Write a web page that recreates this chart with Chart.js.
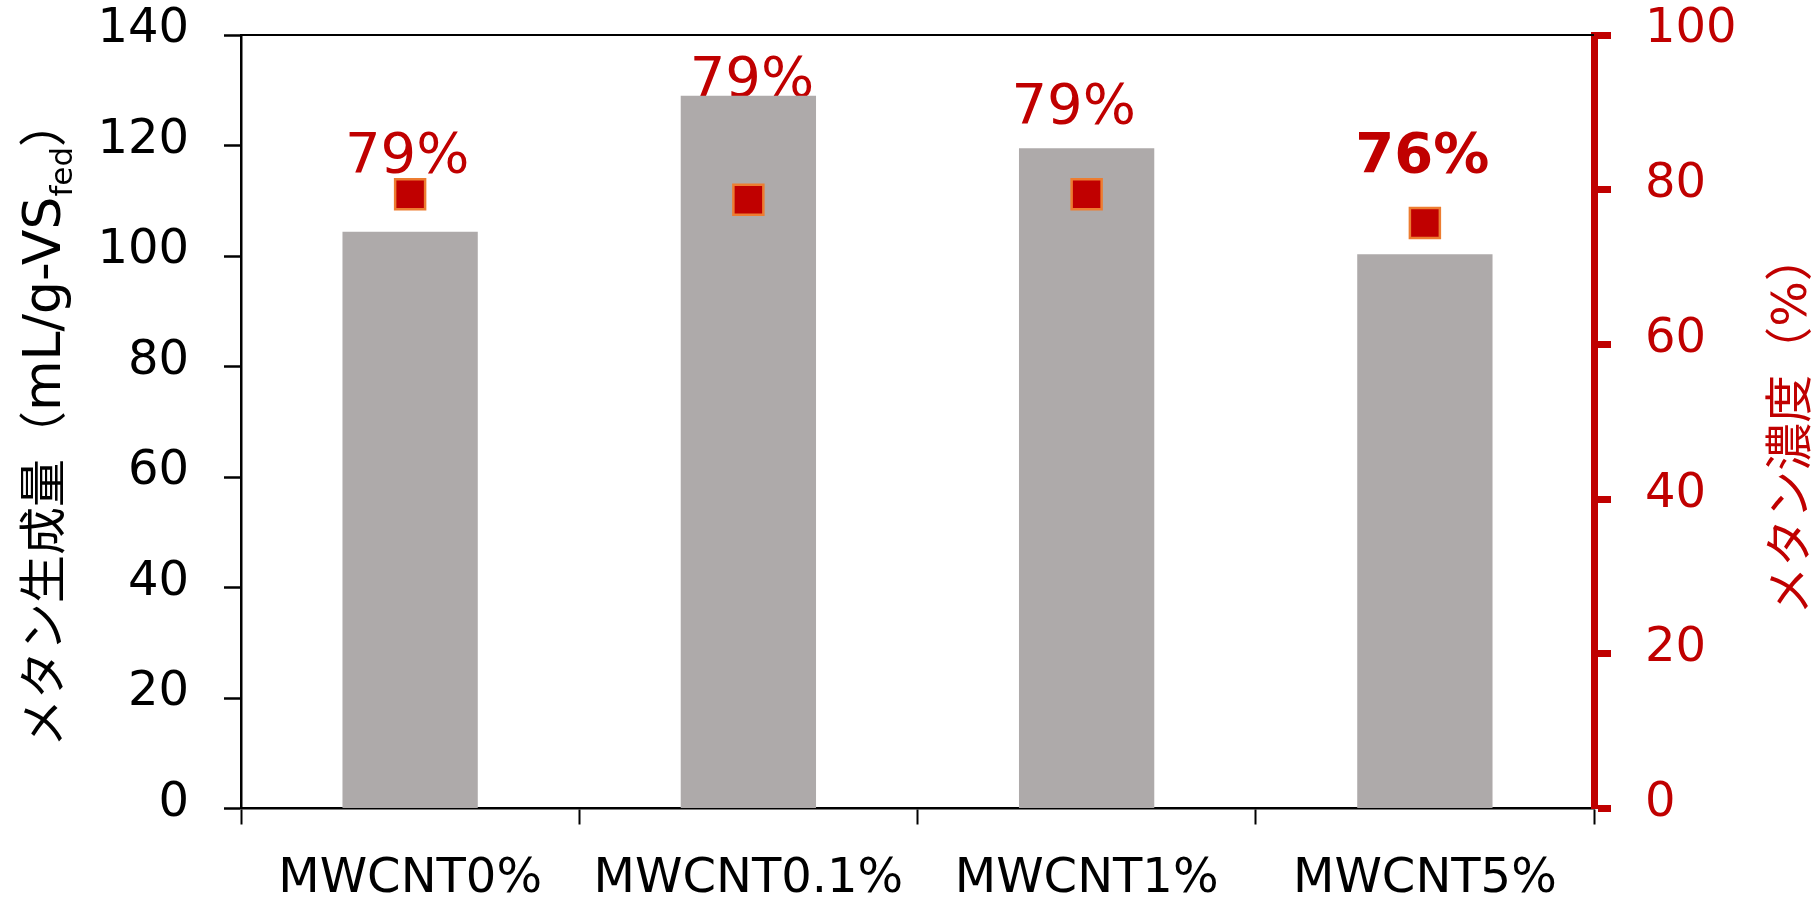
<!DOCTYPE html>
<html>
<head>
<meta charset="utf-8">
<style>
  html, body { margin: 0; padding: 0; background: #ffffff; }
  #chart { display: block; }
</style>
<script src="https://cdn.jsdelivr.net/npm/chart.js@4"></script>
</head>
<body>
<canvas id="chart" width="1817" height="897"></canvas>
<script>
// Categories and measured values
const categories = ['MWCNT0%', 'MWCNT0.1%', 'MWCNT1%', 'MWCNT5%'];
const methaneYield = [104.4, 129.0, 119.5, 100.3];      // mL/g-VSfed
const methaneConcentration = [79.4, 78.7, 79.4, 75.7];  // %

// Axis ranges
const yieldAxis = { min: 0, max: 140, step: 20 };
const concentrationAxis = { min: 0, max: 100, step: 20 };

// Placement of the percentage labels relative to each marker (px)
const labelShiftX = [-3, 3.5, -13, -2.5];
const labelShiftY = [-22, -103.5, -71, -50.7];
const labelBold = [false, false, false, true];

const RED = '#C00000';
const ORANGE = '#ED7D31';
const BAR_GREY = '#AEAAAA';
const LATIN = "'DejaVu Sans'";
const MIXED = "'DejaVu Sans', 'Noto Sans CJK JP'";

// Draws a run of text rotated to read bottom-to-top, centred on cy.
function drawVerticalRun(ctx, parts, baselineX, cy, color) {
  ctx.save();
  ctx.translate(baselineX, cy);
  ctx.rotate(-Math.PI / 2);
  ctx.fillStyle = color;
  ctx.textBaseline = 'alphabetic';
  ctx.textAlign = 'left';
  let total = 0;
  parts.forEach(p => {
    ctx.font = p.font;
    p.w = ctx.measureText(p.text).width;
    total += p.w;
  });
  let x = -total / 2;
  parts.forEach(p => {
    ctx.font = p.font;
    ctx.fillText(p.text, x, p.dy || 0);
    x += p.w;
  });
  ctx.restore();
}

// Vertical axes: keep the plot area where the layout puts it
function fixVerticalAxis(width) {
  return function (scale) {
    scale.width = width;
    scale.paddingTop = 0;
    scale.paddingBottom = 0;
  };
}

const decorations = {
  id: 'decorations',
  beforeDatasetsDraw(chart) {
    const ctx = chart.ctx;
    const area = chart.chartArea;

    // top frame line
    ctx.save();
    ctx.strokeStyle = '#000000';
    ctx.lineWidth = 2;
    ctx.beginPath();
    ctx.moveTo(area.left, area.top);
    ctx.lineTo(area.right, area.top);
    ctx.stroke();
    ctx.restore();

    // percentage labels above the concentration markers
    const meta = chart.getDatasetMeta(1);
    ctx.save();
    ctx.fillStyle = RED;
    ctx.textAlign = 'center';
    ctx.textBaseline = 'alphabetic';
    meta.data.forEach((pt, i) => {
      ctx.font = (labelBold[i] ? 'bold ' : '') + '56px ' + LATIN;
      const txt = Math.round(methaneConcentration[i]) + '%';
      ctx.fillText(txt, pt.x + labelShiftX[i], pt.y + labelShiftY[i]);
    });
    ctx.restore();
  },
  afterDraw(chart) {
    const ctx = chart.ctx;
    // left axis title with subscript
    drawVerticalRun(ctx, [
      { text: 'メタン生成量（', font: '48px ' + MIXED },
      { text: 'mL/g-VS', font: '52px ' + LATIN },
      { text: 'fed', font: '31px ' + LATIN, dy: 11.7 },
      { text: '）', font: '48px ' + MIXED }
    ], 60, 423, '#000000');
    // right axis title
    drawVerticalRun(ctx, [
      { text: 'メタン濃度（%）', font: '48px ' + MIXED }
    ], 1806, 424, RED);
  }
};

new Chart(document.getElementById('chart'), {
  type: 'bar',
  data: {
    labels: categories,
    datasets: [
      {
        label: 'メタン生成量',
        data: methaneYield,
        backgroundColor: BAR_GREY,
        borderWidth: 0,
        barPercentage: 0.4,
        categoryPercentage: 1.0,
        yAxisID: 'y',
        order: 1
      },
      {
        type: 'line',
        label: 'メタン濃度',
        data: methaneConcentration,
        showLine: false,
        pointStyle: 'rect',
        pointRadius: 21.2,
        pointHoverRadius: 21.2,
        pointBackgroundColor: RED,
        pointBorderColor: ORANGE,
        pointBorderWidth: 2.5,
        yAxisID: 'y1',
        order: 0
      }
    ]
  },
  options: {
    responsive: false,
    animation: false,
    devicePixelRatio: 1,
    layout: { padding: { top: 35, left: 0, right: 0, bottom: 0 } },
    plugins: {
      legend: { display: false },
      tooltip: { enabled: false }
    },
    scales: {
      x: {
        offset: true,
        grid: {
          offset: true,
          drawOnChartArea: false,
          drawTicks: true,
          tickLength: 16,
          tickColor: '#000000',
          tickWidth: 2
        },
        border: { color: '#000000', width: 2.5 },
        ticks: {
          color: '#000000',
          font: { family: LATIN, size: 48 },
          padding: 26,
          maxRotation: 0,
          autoSkip: false
        },
        afterFit(scale) { scale.height = 88.5; }
      },
      y: {
        position: 'left',
        min: yieldAxis.min,
        max: yieldAxis.max,
        grid: {
          drawOnChartArea: false,
          drawTicks: true,
          tickLength: 17,
          tickColor: '#000000',
          tickWidth: 2.5
        },
        border: { color: '#000000', width: 2.5 },
        ticks: {
          stepSize: yieldAxis.step,
          color: '#000000',
          font: { family: LATIN, size: 48 },
          padding: 35,
          labelOffset: -5
        },
        afterFit: fixVerticalAxis(241)
      },
      y1: {
        position: 'right',
        min: concentrationAxis.min,
        max: concentrationAxis.max,
        grid: {
          drawOnChartArea: false,
          drawTicks: true,
          tickLength: 17,
          tickColor: RED,
          tickWidth: 7
        },
        border: { color: RED, width: 7 },
        ticks: {
          stepSize: concentrationAxis.step,
          color: RED,
          font: { family: LATIN, size: 48 },
          padding: 34,
          labelOffset: -5
        },
        afterFit: fixVerticalAxis(223)
      }
    }
  },
  plugins: [decorations]
});
</script>
</body>
</html>
